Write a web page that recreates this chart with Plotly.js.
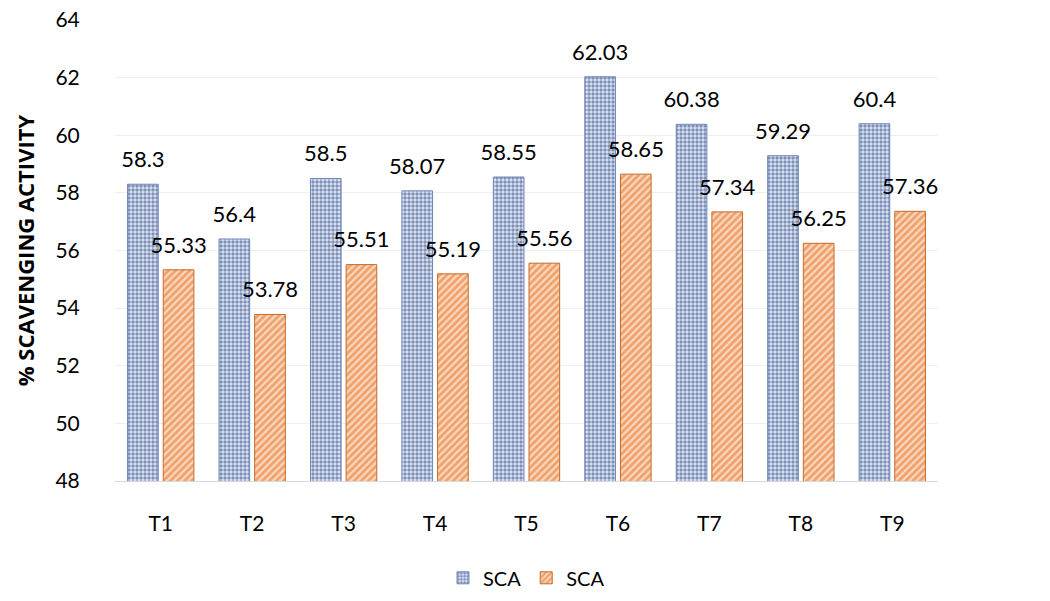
<!DOCTYPE html>
<html>
<head>
<meta charset="utf-8">
<script src="https://cdn.plot.ly/plotly-3.0.1.min.js"></script>
<style>html,body{margin:0;padding:0;background:#fff;}#chart{width:1050px;height:601px;}</style>
</head>
<body>
<div id="chart"></div>
<script>
var categories = ["T1","T2","T3","T4","T5","T6","T7","T8","T9"];
var seriesA = [58.3, 56.4, 58.5, 58.07, 58.55, 62.03, 60.38, 59.29, 60.4];
var seriesB = [55.33, 53.78, 55.51, 55.19, 55.56, 58.65, 57.34, 56.25, 57.36];
var seriesNames = ["SCA", "SCA"];
var yTicks = [48, 50, 52, 54, 56, 58, 60, 62, 64];

var fam = "Lato, 'Open Sans', sans-serif";
var labelFont = {family: fam, size: 22, color: "#000"};

var traceA = {
  type: "bar", name: seriesNames[0], x: categories, y: seriesA,
  marker: {color: "#a9bce0", line: {color: "#6f86b8", width: 1},
    pattern: {shape: ".", fgcolor: "#1c3a78", bgcolor: "#dfe6f4", size: 4, solidity: 0.6, fillmode: "overlay"}}
};
var traceB = {
  type: "bar", name: seriesNames[1], x: categories, y: seriesB,
  marker: {color: "#f2a66e", line: {color: "#c56a2a", width: 1},
    pattern: {shape: "/", fgcolor: "#e36c1c", bgcolor: "#fad7bd", size: 5, solidity: 0.55, fillmode: "overlay"}}
};
function labelTrace(vals) {
  return {
    type: "scatter", mode: "markers+text", x: categories, y: vals,
    text: vals.map(String), textposition: "top center", textfont: labelFont,
    marker: {size: 17, color: "rgba(0,0,0,0)"}, showlegend: false, hoverinfo: "skip", cliponaxis: false
  };
}

var layout = {
  width: 1050, height: 601,
  margin: {l: 115, r: 112, t: 20, b: 120, autoexpand: false},
  paper_bgcolor: "#fff", plot_bgcolor: "#fff",
  barmode: "group", bargap: 0.22, bargroupgap: 0.14,
  scattermode: "group", scattergap: 0.22,
  showlegend: true,
  legend: {orientation: "h", x: 0.5, xanchor: "center", y: -0.21, yanchor: "middle",
    font: {family: fam, size: 20, color: "#000"}},
  xaxis: {
    tickfont: {family: fam, size: 21, color: "#000"}, automargin: false,
    showline: true, linecolor: "#d9d9d9", linewidth: 1,
    ticks: "outside", ticklen: 24, tickcolor: "rgba(0,0,0,0)", showgrid: false
  },
  yaxis: {
    range: [48, 64], tickvals: yTicks, ticktext: yTicks.map(String),
    tickfont: {family: fam, size: 21, color: "#000"},
    showgrid: true, gridcolor: "#efefef", zeroline: false, showline: false,
    ticks: "outside", ticklen: 30, tickcolor: "rgba(0,0,0,0)",
    automargin: false,
    title: {text: "<b>% SCAVENGING ACTIVITY</b>", standoff: 14,
      font: {family: "'Open Sans', 'DejaVu Sans', sans-serif", size: 22, color: "#000"}}
  },
  font: {family: fam}
};

Plotly.newPlot("chart", [traceA, traceB, labelTrace(seriesA), labelTrace(seriesB)], layout, {displayModeBar: false, staticPlot: true});
</script>
</body>
</html>
